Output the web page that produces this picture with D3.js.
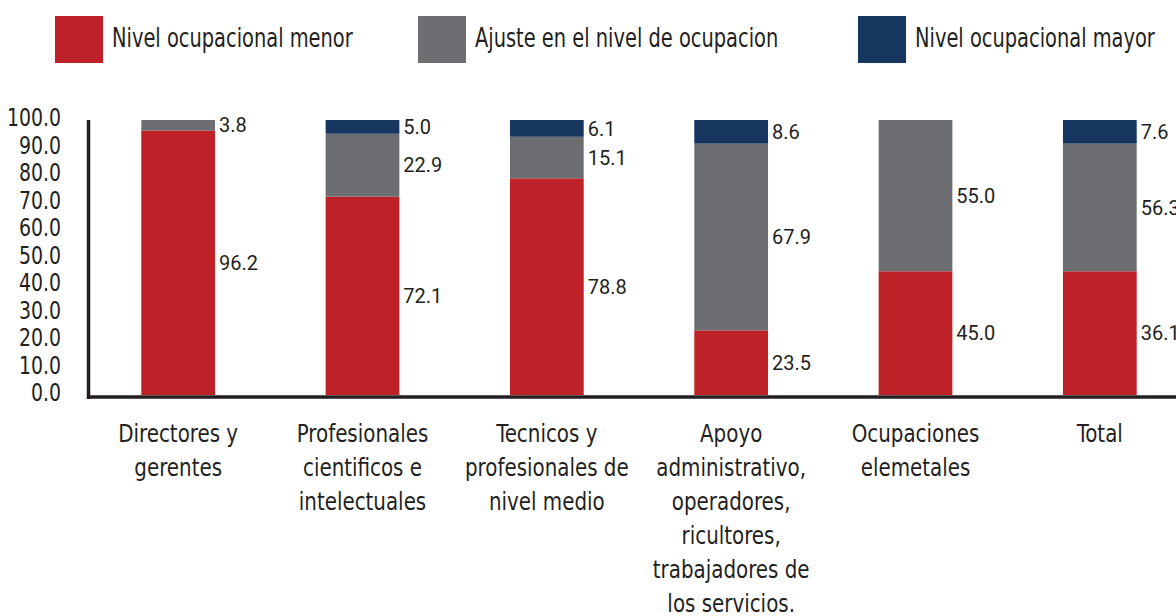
<!DOCTYPE html>
<html>
<head>
<meta charset="utf-8">
<script src="https://cdn.jsdelivr.net/npm/d3@7"></script>
<style>
  body { margin: 0; background: #fff; }
  .cond { font-family: "Liberation Sans Narrow", "DejaVu Sans Condensed", "Roboto", sans-serif; }
</style>
</head>
<body>
<div id="chart"></div>
<script>
// categorias (eje x), cada una partida en lineas
let categories = [
    ["Directores y", "gerentes"],
    ["Profesionales", "cientificos e", "intelectuales"],
    ["Tecnicos y", "profesionales de", "nivel medio"],
    ["Apoyo", "administrativo,", "operadores,", "ricultores,", "trabajadores de", "los servicios."],
    ["Ocupaciones", "elemetales"],
    ["Total"]
]
let seriesNames = ["Nivel ocupacional menor", "Ajuste en el nivel de ocupacion", "Nivel ocupacional mayor"]
let seriesColors = ["#BE2228", "#6D6E71", "#16365F"]

// alturas tal como se dibujan las barras
let menor = [96.2, 72.1, 78.8, 23.5, 45.0, 45.0]
let ajuste = [3.8, 22.9, 15.1, 67.9, 55.0, 46.4]
let mayor = [0, 5.0, 6.1, 8.6, 0, 8.6]
// etiquetas de datos (en Total no coinciden con la barra dibujada)
let menorLabels = ["96.2", "72.1", "78.8", "23.5", "45.0", "36.1"]
let ajusteLabels = ["3.8", "22.9", "15.1", "67.9", "55.0", "56.3"]
let mayorLabels = ["", "5.0", "6.1", "8.6", "", "7.6"]

let yTicks = [0, 10, 20, 30, 40, 50, 60, 70, 80, 90, 100]

let width = 1176, height = 616

let svg = d3.select("#chart")
    .append("svg")
    .attr("width", width)
    .attr("height", height)

// la fuente original es condensada: se estrecha el texto
function condense(sel, f) {
    sel.each(function () {
        let w = this.getComputedTextLength()
        if (w > 0) d3.select(this).attr("textLength", w * f).attr("lengthAdjust", "spacingAndGlyphs")
    })
}

let x = d3.scaleBand()
    .domain(d3.range(categories.length))
    .range([86, 1192])
    .paddingInner(0.6)
    .paddingOuter(0.3)

let y = d3.scaleLinear()
    .domain([0, 100])
    .range([395, 120])

let table = categories.map((c, i) => ({
    idx: i,
    menor: menor[i], ajuste: ajuste[i], mayor: mayor[i],
    labels: [menorLabels[i], ajusteLabels[i], mayorLabels[i]]
}))
let stack = d3.stack().keys(["menor", "ajuste", "mayor"])(table)

//barras apiladas
let layers = svg.selectAll(".layer")
    .data(stack)
    .enter()
    .append("g")
    .attr("class", "layer")
    .attr("fill", (d, i) => seriesColors[i])

layers.selectAll("rect")
    .data(d => d.filter(s => s[1] - s[0] > 0))
    .enter()
    .append("rect")
    .attr("x", d => x(d.data.idx))
    .attr("y", d => y(d[1]))
    .attr("width", x.bandwidth())
    .attr("height", d => y(d[0]) - y(d[1]))

//etiquetas de valores
stack.forEach(function (layer, k) {
    svg.selectAll(".vlab" + k)
        .data(layer.filter(s => s[1] - s[0] > 0))
        .enter()
        .append("text")
        .attr("class", "vlab" + k)
        .attr("x", d => x(d.data.idx) + x.bandwidth() + 4)
        .attr("y", d => y((d[0] + d[1]) / 2))
        .attr("dy", "0.36em")
        .style("font-family", "Roboto, sans-serif")
        .style("font-size", "20px")
        .style("fill", "#231F20")
        .text(d => d.data.labels[k])
})

//ejes
svg.append("line")
    .attr("x1", 88.5).attr("x2", 88.5)
    .attr("y1", y(100)).attr("y2", 399)
    .attr("stroke", "#231F20").attr("stroke-width", 3.5)
svg.append("line")
    .attr("x1", 87).attr("x2", width)
    .attr("y1", 397).attr("y2", 397)
    .attr("stroke", "#231F20").attr("stroke-width", 3.5)

svg.selectAll(".ytick")
    .data(yTicks)
    .enter()
    .append("text")
    .attr("class", "ytick cond")
    .attr("x", 61)
    .attr("y", d => y(d) - 3)
    .attr("dy", "0.36em")
    .attr("text-anchor", "end")
    .style("font-size", "25px")
    .style("fill", "#231F20")
    .text(d => d3.format(".1f")(d))
    .call(condense, 0.84)

//etiquetas de categorias
let cats = svg.selectAll(".catLabel")
    .data(categories)
    .enter()
    .append("g")
    .attr("class", "catLabel")
cats.selectAll("text")
    .data((d, i) => d.map(t => ({ t: t, i: i })))
    .enter()
    .append("text")
    .attr("class", "cond")
    .attr("text-anchor", "middle")
    .style("font-size", "24px")
    .style("fill", "#231F20")
    .attr("x", d => x(d.i) + x.bandwidth() / 2)
    .attr("y", (d, j) => 433 + j * 34)
    .attr("dy", "0.36em")
    .text(d => d.t)
    .call(condense, 0.92)

//leyenda
let legendX = [55, 418, 858]
let legend = svg.selectAll(".legend")
    .data(seriesNames)
    .enter()
    .append("g")
    .attr("class", "legend")
    .attr("transform", (d, i) => "translate(" + legendX[i] + ",16)")
legend.append("rect")
    .attr("width", 48)
    .attr("height", 47)
    .attr("fill", (d, i) => seriesColors[i])
legend.append("text")
    .attr("class", "cond")
    .attr("x", 57)
    .attr("y", 22)
    .attr("dy", "0.36em")
    .style("font-size", "26px")
    .style("fill", "#231F20")
    .text(d => d)
    .call(condense, 0.83)
</script>
</body>
</html>
